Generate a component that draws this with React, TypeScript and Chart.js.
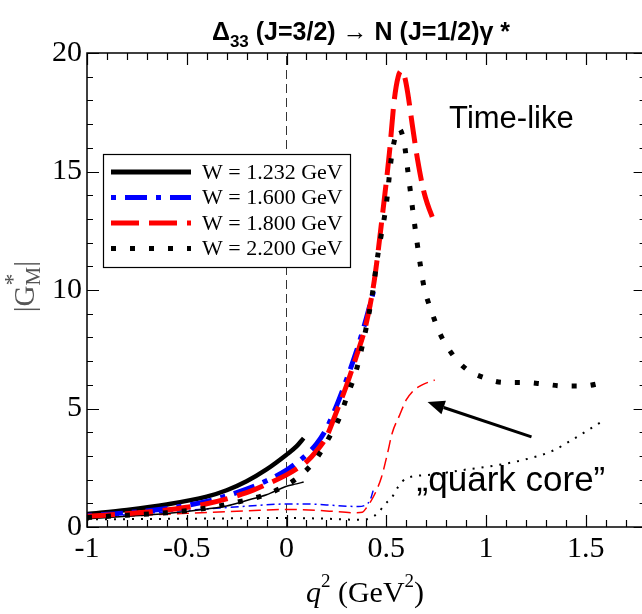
import { useEffect, useRef } from "react";
import { Chart, registerables } from "chart.js";

Chart.register(...registerables);

// ---- data (q^2 in GeV^2, |G_M*|) ----
const W1232_Q2 = [-1, -0.8, -0.6, -0.4, -0.3, -0.2, -0.1, 0, 0.05, 0.086];
const W1232_G = [0.55, 0.72, 0.95, 1.28, 1.55, 1.93, 2.43, 3.05, 3.4, 3.75];
const W1232_CORE_G = [0.35, 0.45, 0.57, 0.76, 0.89, 1.12, 1.36, 1.72, 1.82, 1.9];

const W1600_Q2 = [-1, -0.8, -0.6, -0.4, -0.2, -0.1, 0, 0.05, 0.1, 0.15, 0.2, 0.25, 0.3, 0.35, 0.4, 0.438];
const W1600_G = [0.48, 0.6, 0.78, 1.08, 1.6, 1.95, 2.4, 2.7, 3.05, 3.5, 4.15, 5.1, 6.2, 7.4, 8.8, 10.0];
const W1600_CORE_Q2 = [-1, -0.8, -0.6, -0.4, -0.2, 0, 0.1, 0.2, 0.3, 0.36, 0.4, 0.42, 0.438];
const W1600_CORE_G = [0.42, 0.52, 0.64, 0.76, 0.88, 0.97, 0.97, 0.93, 0.88, 0.86, 0.95, 1.15, 1.65];

const W1800_Q2 = [-1, -0.8, -0.6, -0.4, -0.2, -0.1, 0, 0.05, 0.1, 0.15, 0.2, 0.25, 0.3, 0.35, 0.4, 0.44, 0.48, 0.516, 0.54, 0.56, 0.576, 0.592, 0.608, 0.63, 0.657, 0.69, 0.743];
const W1800_G = [0.45, 0.56, 0.72, 0.98, 1.45, 1.8, 2.2, 2.45, 2.75, 3.2, 3.8, 4.85, 5.95, 7.2, 8.6, 10.4, 13.1, 15.8, 18.0, 19.0, 19.25, 19.0, 18.3, 17.0, 15.5, 14.1, 12.8];
const W1800_CORE_Q2 = [-1, -0.7, -0.5, -0.2, 0, 0.2, 0.35, 0.38, 0.4, 0.44, 0.476, 0.506, 0.53, 0.566, 0.6, 0.63, 0.68, 0.743];
const W1800_CORE_G = [0.4, 0.5, 0.58, 0.68, 0.74, 0.68, 0.6, 0.62, 0.8, 1.35, 2.1, 3.1, 3.97, 4.7, 5.36, 5.7, 6.0, 6.2];

const W2200_Q2 = [-1, -0.8, -0.6, -0.4, -0.2, -0.1, 0, 0.085, 0.155, 0.215, 0.265, 0.306, 0.346, 0.376, 0.426, 0.46, 0.5, 0.526, 0.55, 0.565, 0.59, 0.607, 0.637, 0.67, 0.69, 0.727, 0.767, 0.83, 0.9, 0.99, 1.09, 1.19, 1.29, 1.39, 1.49, 1.59];
const W2200_G = [0.4, 0.5, 0.6, 0.8, 1.14, 1.38, 1.77, 2.28, 2.95, 3.8, 4.6, 5.57, 6.5, 7.5, 9.6, 11.6, 13.6, 15.6, 16.6, 16.8, 16.2, 15.1, 13.1, 11.1, 10.1, 9.1, 8.2, 7.3, 6.67, 6.3, 6.1, 6.1, 6.03, 5.95, 5.95, 6.1];
const W2200_CORE_Q2 = [-1, -0.5, 0, 0.2, 0.38, 0.42, 0.46, 0.49, 0.53, 0.56, 0.6, 0.72, 0.88, 1.05, 1.22, 1.33, 1.43, 1.52, 1.59];
const W2200_CORE_G = [0.32, 0.35, 0.38, 0.35, 0.3, 0.38, 0.6, 0.93, 1.27, 1.7, 2.05, 2.2, 2.4, 2.6, 2.9, 3.2, 3.67, 4.13, 4.5];

const LEGEND_LABELS = ["W = 1.232 GeV", "W = 1.600 GeV", "W = 1.800 GeV", "W = 2.200 GeV"];
const X_TICKS = [-1, -0.5, 0, 0.5, 1, 1.5];
const Y_TICKS = [0, 5, 10, 15, 20];
const X_MIN = -1;
const X_MAX = 1.8;
const Y_MIN = 0;
const Y_MAX = 20;

const ZERO_LINE_Q2 = [0, 0];
const ZERO_LINE_G = [0, 20];

// annotation anchors (data space)
const ARROW_FROM = [1.228, 3.8];
const ARROW_TO = [0.707, 5.27];
const TIMELIKE_AT = [0.815, 16.85];
const QUARK_AT = [0.652, 1.52];

const pts = (xs: number[], ys: number[]) => xs.map((x, i) => ({ x, y: ys[i] }));

const STYLES = [
  { color: "#000000", dash: [] as number[] },
  { color: "#0000ff", dash: [5, 9, 22, 9] },
  { color: "#ff0000", dash: [28, 10] },
  { color: "#000000", dash: [5, 14] },
];

const SERIF = "'Liberation Serif', 'Times New Roman', serif";
const SANS = "'Liberation Sans', Arial, 'DejaVu Sans', sans-serif";

const decorPlugin = {
  id: "decor",
  afterDraw(chart: any) {
    const ctx: CanvasRenderingContext2D = chart.ctx;
    const xs = chart.scales.x;
    const ys = chart.scales.y;
    const { left, right, top, bottom } = chart.chartArea;
    ctx.save();

    // frame
    ctx.strokeStyle = "#000";
    ctx.lineWidth = 1.5;
    ctx.strokeRect(left, top, right - left, bottom - top);

    // inward ticks
    ctx.lineWidth = 1.2;
    ctx.beginPath();
    for (let i = -10; i <= 18; i++) {
      const v = i / 10;
      const px = Math.round(xs.getPixelForValue(v)) + 0.5;
      const len = i % 5 === 0 ? 12 : 7;
      ctx.moveTo(px, bottom);
      ctx.lineTo(px, bottom - len);
      ctx.moveTo(px, top);
      ctx.lineTo(px, top + len);
    }
    for (let j = 0; j <= 20; j++) {
      const py = Math.round(ys.getPixelForValue(j)) + 0.5;
      const len = j % 5 === 0 ? 12 : 6;
      ctx.moveTo(left, py);
      ctx.lineTo(left + len, py);
      ctx.moveTo(right, py);
      ctx.lineTo(right - len, py);
    }
    ctx.stroke();

    // legend
    const lx = left + 16;
    const ly = top + 101;
    const lw = 247;
    const lh = 113;
    ctx.fillStyle = "#fff";
    ctx.fillRect(lx, ly, lw, lh);
    ctx.strokeStyle = "#000";
    ctx.lineWidth = 1.2;
    ctx.strokeRect(lx + 0.5, ly + 0.5, lw, lh);
    ctx.font = `22px ${SERIF}`;
    ctx.textBaseline = "middle";
    ctx.textAlign = "left";
    LEGEND_LABELS.forEach((lab, i) => {
      const y = ly + 18 + i * 25.5;
      const st = STYLES[i];
      ctx.strokeStyle = st.color;
      ctx.lineWidth = 5;
      ctx.lineCap = "butt";
      ctx.setLineDash(st.dash);
      ctx.beginPath();
      ctx.moveTo(lx + 8, y);
      ctx.lineTo(lx + 88, y);
      ctx.stroke();
      ctx.setLineDash([]);
      ctx.fillStyle = "#000";
      ctx.fillText(lab, lx + 99, y + 1);
    });

    // arrow
    const ax0 = xs.getPixelForValue(ARROW_FROM[0]);
    const ay0 = ys.getPixelForValue(ARROW_FROM[1]);
    const ax1 = xs.getPixelForValue(ARROW_TO[0]);
    const ay1 = ys.getPixelForValue(ARROW_TO[1]);
    const ang = Math.atan2(ay1 - ay0, ax1 - ax0);
    const hl = 17;
    const hw = 7;
    const bx = ax1 - hl * Math.cos(ang);
    const by = ay1 - hl * Math.sin(ang);
    ctx.strokeStyle = "#000";
    ctx.fillStyle = "#000";
    ctx.lineWidth = 3;
    ctx.beginPath();
    ctx.moveTo(ax0, ay0);
    ctx.lineTo(bx, by);
    ctx.stroke();
    ctx.beginPath();
    ctx.moveTo(ax1, ay1);
    ctx.lineTo(bx + hw * Math.sin(ang), by - hw * Math.cos(ang));
    ctx.lineTo(bx - hw * Math.sin(ang), by + hw * Math.cos(ang));
    ctx.closePath();
    ctx.fill();

    // text annotations
    ctx.textBaseline = "alphabetic";
    ctx.textAlign = "left";
    ctx.fillStyle = "#000";
    ctx.font = `31px ${SANS}`;
    ctx.fillText("Time-like", xs.getPixelForValue(TIMELIKE_AT[0]), ys.getPixelForValue(TIMELIKE_AT[1]));
    ctx.font = `35px ${SANS}`;
    ctx.fillText("\u201Equark core\u201D", xs.getPixelForValue(QUARK_AT[0]), ys.getPixelForValue(QUARK_AT[1]));

    // title
    const tParts: [string, string, number][] = [
      ["\u0394", `bold 25px ${SANS}`, 0],
      ["33", `bold 17px ${SANS}`, 7],
      [" (J=3/2) \u2192 N (J=1/2)\u03B3 *", `bold 25px ${SANS}`, 0],
    ];
    let tw = 0;
    tParts.forEach(([s, f]) => {
      ctx.font = f;
      tw += ctx.measureText(s).width;
    });
    let tx = 361 - tw / 2;
    tParts.forEach(([s, f, dy]) => {
      ctx.font = f;
      ctx.fillText(s, tx, 40 + dy);
      tx += ctx.measureText(s).width;
    });

    // x axis title
    const xParts: [string, string, number][] = [
      ["q", `italic 30px ${SERIF}`, 0],
      ["2", `19px ${SERIF}`, -15],
      [" (GeV", `30px ${SERIF}`, 0],
      ["2", `19px ${SERIF}`, -15],
      [")", `30px ${SERIF}`, 0],
    ];
    let xw = 0;
    xParts.forEach(([s, f]) => {
      ctx.font = f;
      xw += ctx.measureText(s).width;
    });
    let xx = 365 - xw / 2;
    xParts.forEach(([s, f, dy]) => {
      ctx.font = f;
      ctx.fillText(s, xx, 602 + dy);
      xx += ctx.measureText(s).width;
    });

    // y axis title (rotated)
    ctx.translate(34, 290);
    ctx.rotate(-Math.PI / 2);
    ctx.fillStyle = "#555";
    const yParts: [string, string, number, boolean][] = [
      ["|G", `29px ${SERIF}`, 0, true],
      ["M", `21px ${SERIF}`, 6, false],
      ["*", `24px ${SERIF}`, -14, true],
      ["|", `29px ${SERIF}`, 0, true],
    ];
    let yw = 0;
    yParts.forEach(([s, f, , adv]) => {
      ctx.font = f;
      if (adv) yw += ctx.measureText(s).width;
    });
    let yx = -yw / 2;
    let prev = 0;
    yParts.forEach(([s, f, dy], i) => {
      ctx.font = f;
      const w = ctx.measureText(s).width;
      if (i === 2) {
        ctx.fillText(s, yx - prev, dy);
        yx += Math.max(0, w - prev);
      } else {
        ctx.fillText(s, yx, dy);
        yx += w;
      }
      prev = w;
    });

    ctx.restore();
  },
};

export default function App() {
  const ref = useRef<HTMLCanvasElement | null>(null);
  useEffect(() => {
    if (!ref.current) return;
    const thick = 4.5;
    const thin = 1.5;
    const mk = (data: any[], color: string, width: number, dash: number[], order: number) => ({
      data,
      borderColor: color,
      backgroundColor: color,
      borderWidth: width,
      borderDash: dash,
      borderCapStyle: "butt",
      pointRadius: 0,
      fill: false,
      cubicInterpolationMode: "monotone",
      order,
    });
    const chart = new Chart(ref.current, {
      type: "line",
      data: {
        datasets: [
          mk(pts(W2200_Q2, W2200_G), "#000000", 5, [5, 14], 1),
          mk(pts(W1800_Q2, W1800_G), "#ff0000", 5, [28, 10], 2),
          mk(pts(W1600_Q2, W1600_G), "#0000ff", 5, [5, 9, 22, 9], 3),
          mk(pts(W1232_Q2, W1232_G), "#000000", thick, [], 4),
          mk(pts(W1232_Q2, W1232_CORE_G), "#000000", thin, [], 5),
          mk(pts(W1600_CORE_Q2, W1600_CORE_G), "#0000ff", thin, [8, 4, 2, 4], 6),
          mk(pts(W1800_CORE_Q2, W1800_CORE_G), "#ff0000", thin, [12, 6], 7),
          mk(pts(W2200_CORE_Q2, W2200_CORE_G), "#000000", 2, [2, 7], 8),
          {
            data: pts(ZERO_LINE_Q2, ZERO_LINE_G),
            borderColor: "#333",
            borderWidth: 1,
            borderDash: [9, 5],
            pointRadius: 0,
            fill: false,
            order: 9,
          },
        ] as any,
      },
      options: {
        responsive: false,
        animation: false,
        devicePixelRatio: 1,
        layout: { padding: { left: 0, top: 53, right: 4.4, bottom: 0 } },
        plugins: { legend: { display: false }, tooltip: { enabled: false }, title: { display: false } },
        scales: {
          x: {
            type: "linear",
            min: X_MIN,
            max: X_MAX,
            grid: { display: false, drawTicks: false },
            border: { display: false },
            afterFit: (s: any) => {
              s.height = 87;
            },
            afterBuildTicks: (s: any) => {
              s.ticks = X_TICKS.map((v) => ({ value: v }));
            },
            ticks: {
              padding: 4,
              color: "#000",
              font: { family: SERIF, size: 30 },
              maxRotation: 0,
              autoSkip: false,
              callback: (v: any) => String(v),
            },
          },
          y: {
            type: "linear",
            min: Y_MIN,
            max: Y_MAX,
            grid: { display: false, drawTicks: false },
            border: { display: false },
            afterFit: (s: any) => {
              s.width = 87;
            },
            afterBuildTicks: (s: any) => {
              s.ticks = Y_TICKS.map((v) => ({ value: v }));
            },
            ticks: {
              padding: 5,
              color: "#000",
              font: { family: SERIF, size: 30 },
              callback: (v: any) => String(v),
            },
          },
        },
      } as any,
      plugins: [decorPlugin],
    });
    return () => chart.destroy();
  }, []);
  return (
    <div
      style={{
        position: "fixed",
        left: 0,
        top: 0,
        width: 642,
        height: 614,
        overflow: "hidden",
        background: "#fff",
      }}
    >
      <canvas ref={ref} width={650} height={614} style={{ width: 650, height: 614, display: "block" }} />
    </div>
  );
}
